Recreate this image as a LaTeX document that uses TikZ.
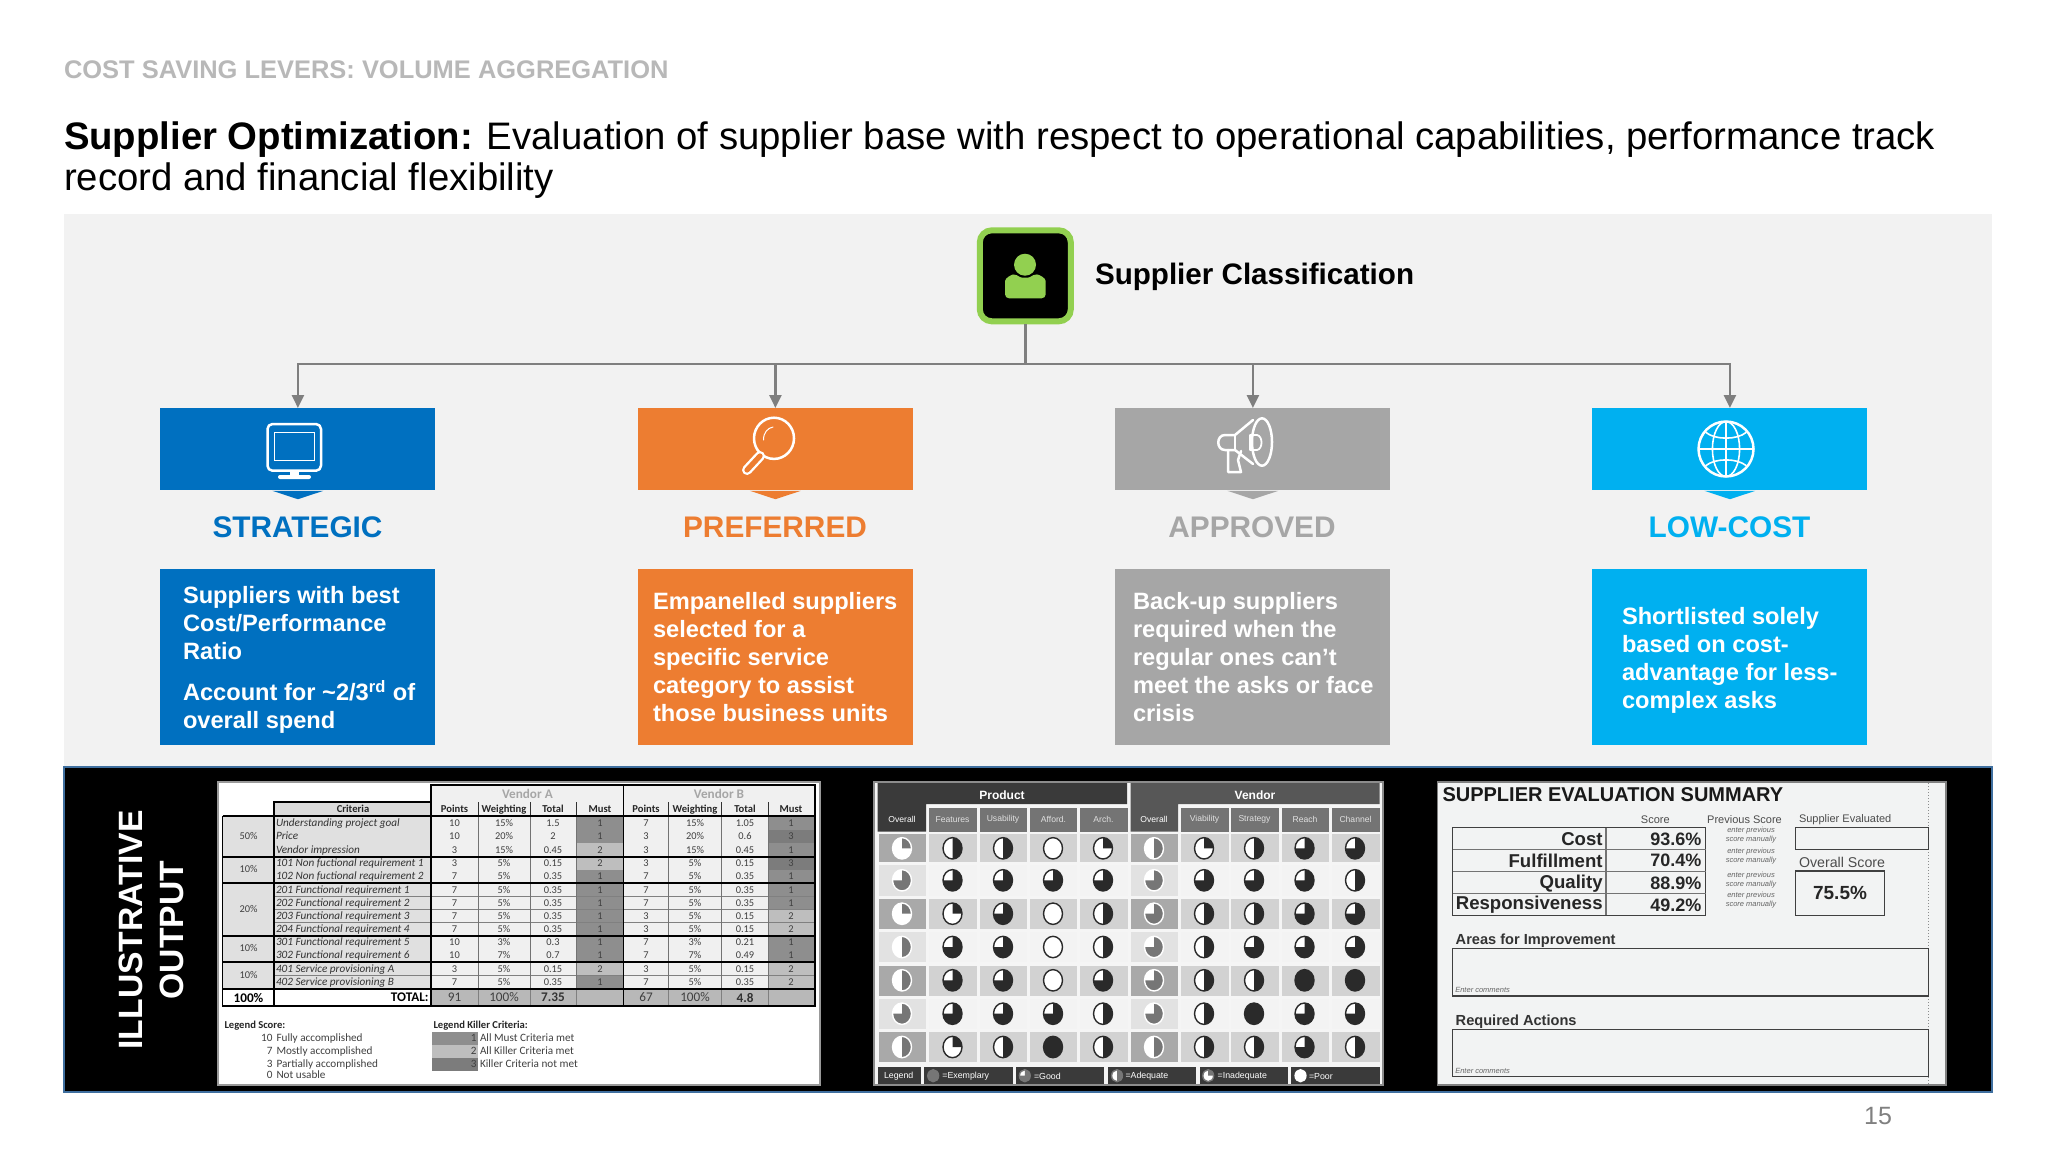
\documentclass[tikz,border=0pt]{standalone}
\usepackage{fontspec}
\usetikzlibrary{arrows.meta}
\setmainfont{Liberation Sans}
\newfontfamily\tbl{Carlito}
\definecolor{cblue}{HTML}{0070C0}
\definecolor{corange}{HTML}{ED7D31}
\definecolor{cgrey}{HTML}{A6A6A6}
\definecolor{ccyan}{HTML}{00B0F0}
\definecolor{cgreen}{HTML}{92D050}
\definecolor{cpanel}{HTML}{F2F2F2}
\definecolor{cline}{HTML}{7F7F7F}
\definecolor{cedge}{HTML}{3F6F9F}
\definecolor{mc1}{HTML}{8E8E8E}
\definecolor{mc2}{HTML}{BEBEBE}
\definecolor{mc3}{HTML}{7C7C7C}
\definecolor{mc0}{HTML}{B8B8B8}
\definecolor{dkhead}{HTML}{3A3A3A}
\definecolor{subhead}{HTML}{747474}
\definecolor{ballk}{HTML}{2A2A2A}
\definecolor{ballg}{HTML}{767676}
\definecolor{rowa}{HTML}{D2D2D2}
\definecolor{rowb}{HTML}{F3F3F3}
\definecolor{ova}{HTML}{A9A9A9}
\definecolor{ovb}{HTML}{E2E2E2}
\definecolor{sheet}{HTML}{F2F3F3}
\newcounter{nn}
\newcommand\tx[3][]{\stepcounter{nn}\node[txt,#1] (t\arabic{nn}) at (#2) {#3};}
\newcommand\fz[1]{\fontsize{#1}{#1}\selectfont}
% x, y, quarters, colour, outline, rx, ry
\newcommand\hb[7]{%
  \path[fill=white] (#1,#2) ellipse [x radius=#6,y radius=#7];
  \ifnum#3>0 \fill[#4] (#1,#2) -- ++(0pt,#7) arc[start angle=90,delta angle=-90*#3,x radius=#6,y radius=#7] -- cycle;\fi
  \path[draw=#5,line width=.7pt] (#1,#2) ellipse [x radius=#6,y radius=#7];
}
\newcommand\hbrow[2]{%
  \foreach \hbn [count=\hbi] in {#2} {%
    \pgfmathsetmacro\hbx{{902,952.5,1003,1053,1103,1154,1204,1254,1304.5,1355}[\hbi-1]}%
    \ifnum\hbi=1 \hb{\hbx}{#1}{\hbn}{ballg}{white}{4.75pt}{5.35pt}%
    \else\ifnum\hbi=6 \hb{\hbx}{#1}{\hbn}{ballg}{white}{4.75pt}{5.35pt}%
    \else \hb{\hbx}{#1}{\hbn}{ballk}{ballk}{4.75pt}{5.35pt}\fi\fi
  }%
}
\tikzset{
  txt/.style={inner sep=0pt,outer sep=0pt},
  conn/.style={draw=cline,line width=1.2pt},
  arr/.style={conn,-{Triangle[length=6.5pt,width=6pt]}},
  top/.style={rectangle,inner sep=0pt,minimum width=137.5pt,minimum height=41pt,anchor=north west},
  desc/.style={rectangle,inner sep=0pt,minimum width=137.5pt,minimum height=87.75pt,anchor=north west},
  level/.style={txt,font=\bfseries\fz{14.9}},
  body/.style={txt,anchor=west,align=left,text=white,font=\bfseries\fontsize{11.82}{14}\selectfont},
  ico/.style={draw=white,line width=1.25pt,line join=round,line cap=round},
  strut/.style={text height=3.7pt,text depth=1.1pt},
  tb/.style={strut,font=\tbl\fz{5.2},text=black!75},
  tbl5/.style={strut,font=\tbl\fz{5.6},text=black!75},
  tbb/.style={strut,font=\tbl\bfseries\fz{5.3},text=black!85},
  tbi/.style={strut,font=\tbl\itshape\fz{5.6},text=black!80,anchor=west},
  head/.style={font=\fz{4.3},text=white!88!black},
  lg/.style={font=\fz{4.4},text=white,anchor=west},
  sh/.style={font=\bfseries\fz{9.3},anchor=east,text=black!85},
  shv/.style={font=\bfseries\fz{9},anchor=east,text=black!85},
  hint/.style={font=\itshape\fz{3.75},text=black!60},
  sl/.style={font=\fz{5.5},text=black!70},
  frm/.style={draw=black!75,line width=.7pt},
}
\begin{document}
\begin{tikzpicture}[x=.5pt,y=-.5pt]
\useasboundingbox (0,0) rectangle (2048,1152);
\fill[white] (0,0) rectangle (2048,1152);
% header
\node[txt,anchor=base west,font=\bfseries\fz{12.73},text=black!28] (kicker) at (64,78) {COST SAVING LEVERS: VOLUME AGGREGATION};
\node[txt,anchor=north west,align=left,font=\fontsize{19.16}{20.5}\selectfont] (title) at (64,122) {\textbf{Supplier Optimization:} Evaluation of supplier base with respect to operational capabilities, performance track\\record and financial flexibility};
% grey panel
\fill[cpanel] (64,214) rectangle (1992,767);
% icon
\node[rectangle,rounded corners=6pt,fill=black,draw=cgreen,line width=3pt,minimum width=45.5pt,minimum height=45.5pt,inner sep=0pt] (icon) at (1025.3,275.8) {};
\fill[cgreen] (1025,264.7) circle [radius=5.5pt];
\fill[cgreen,rounded corners=2pt] (1005,298.3) -- (1005,285) .. controls (1005,278) and (1012,274.5) .. (1017,274.3) .. controls (1021,278) and (1029,278) .. (1033,274.3) .. controls (1039,274.5) and (1045.7,278) .. (1045.7,285) -- (1045.7,298.3) -- cycle;
\node[txt,anchor=west,font=\bfseries\fz{14.8}] (clsname) at (1095,276.6) {Supplier Classification};
% top boxes
\node[top,fill=cblue] (b1) at (160,408) {};
\node[top,fill=corange] (b2) at (637.5,408) {};
\node[top,fill=cgrey] (b3) at (1115,408) {};
\node[top,fill=ccyan] (b4) at (1592,408) {};
\foreach \bn/\bc in {b1/cblue,b2/corange,b3/cgrey,b4/ccyan}{
  \fill[\bc] ([xshift=-12.75pt]\bn.south) -- ([xshift=12.75pt]\bn.south) -- ([yshift=-4.2pt]\bn.south) -- cycle;
}
% connectors
\coordinate (bus) at (icon.south |- 0,364);
\draw[conn] (icon.south) -- (bus);
\draw[arr] (bus) -| (b1.north);
\draw[arr] (bus) -| (b2.north);
\draw[arr] (bus) -| (b3.north);
\draw[arr] (bus) -| (b4.north);
% level names
\node[level,text=cblue] (l1) at (297.5,527.6) {STRATEGIC};
\node[level,text=corange] (l2) at (775,527.6) {PREFERRED};
\node[level,text=cgrey] (l3) at (1252,527.6) {APPROVED};
\node[level,text=ccyan] (l4) at (1729.5,527.6) {LOW-COST};
% descriptions
\node[desc,fill=cblue] (d1) at (160,569) {};
\node[desc,fill=corange] (d2) at (637.5,569) {};
\node[desc,fill=cgrey] (d3) at (1115,569) {};
\node[desc,fill=ccyan] (d4) at (1592,569) {};
\node[body] (dt1) at (183,660) {Suppliers with best\\Cost/Performance\\Ratio\\[6.8pt]Account for \char"007E 2/3\textsuperscript{rd} of\\overall spend};
\node[body] (dt2) at (653,657) {Empanelled suppliers\\selected for a\\specific service\\category to assist\\those business units};
\node[body] (dt3) at (1133,657) {Back-up suppliers\\required when the\\regular ones can’t\\meet the asks or face\\crisis};
\node[body] (dt4) at (1622,660) {Shortlisted solely\\based on cost-\\advantage for less-\\complex asks};
% icons: monitor
\draw[ico,rounded corners=2.5pt] (267.5,424) rectangle (321,470.7);
\draw[white,line width=.5pt] (274.7,432) rectangle (314.5,460);
\fill[white] (290,470.7) rectangle (299,476);
\fill[white,rounded corners=1pt] (278,475) rectangle (311,479);
% magnifier
\draw[ico] (774,438.3) ellipse [x radius=10pt,y radius=10.3pt];
\draw[white,line width=.5pt,line cap=round] (763.5,440) .. controls (763.5,432) and (768,428) .. (773,427);
\draw[white,line width=5pt,line cap=round] (760,456) -- (747,470);
\draw[corange,line width=2.6pt,line cap=round] (760,456) -- (747,470);
% megaphone
\draw[ico] (1262,442) ellipse [x radius=5pt,y radius=11.85pt];
\draw[ico] (1253,420) -- (1235,435) -- (1225,435) .. controls (1216,435) and (1216,450) .. (1225,450) -- (1235,450) -- (1253,464);
\draw[ico,line width=.8pt] (1235,435) -- (1235,450);
\draw[ico,line width=.9pt] (1250,435) -- (1257,435) .. controls (1263,436) and (1263,449) .. (1257,450) -- (1250,450) -- cycle;
\draw[ico] (1228,450) -- (1228,472) -- (1241,472) -- (1238,460) -- (1241,451);
% globe
\draw[ico] (1726,449) circle [radius=13.75pt];
\draw[ico,line width=.8pt] (1726,449) ellipse [x radius=6.8pt,y radius=13.75pt];
\draw[ico,line width=.8pt] (1726,421.7) -- (1726,476.3);
\draw[ico,line width=.8pt] (1698.5,449) -- (1753.5,449);
\draw[ico,line width=.8pt] (1706,432.5) .. controls (1715,440) and (1737,440) .. (1746,432.5);
\draw[ico,line width=.8pt] (1706,465.5) .. controls (1715,458) and (1737,458) .. (1746,465.5);
% black panel
\path[fill=black,draw=cedge,line width=.8pt] (64,767) rectangle (1992,1091.7);
\node[txt,rotate=90,align=center,text=white,font=\bfseries\fontsize{16.85}{20.5}\selectfont] (illus) at (151,930) {ILLUSTRATIVE\\OUTPUT};
% ================ table 1
\path[fill=white,draw=black!40,line width=.9pt] (218,782) rectangle (820,1085);
\fill[black!6] (431.3,785) rectangle (814.8,816);
\fill[black!14] (274,802.3) rectangle (431.3,816);
\foreach \yt/\yb/\lab/\pa/\wa/\ta/\ma/\pb/\wb/\tb/\mb in {
 816/830/Understanding project goal/10/15\%/1.5/1/7/15\%/1.05/1,
 830/843/Price/10/20\%/2/1/3/20\%/0.6/3,
 843/856.7/Vendor impression/3/15\%/0.45/2/3/15\%/0.45/1,
 856.7/870/101 Non fuctional requirement 1/3/5\%/0.15/2/3/5\%/0.15/3,
 870/883.3/102 Non fuctional requirement 2/7/5\%/0.35/1/7/5\%/0.35/1,
 883.3/896.7/201 Functional requirement 1/7/5\%/0.35/1/7/5\%/0.35/1,
 896.7/909.7/202 Functional requirement 2/7/5\%/0.35/1/7/5\%/0.35/1,
 909.7/922.7/203 Functional requirement 3/7/5\%/0.35/1/3/5\%/0.15/2,
 922.7/935.7/204 Functional requirement 4/7/5\%/0.35/1/3/5\%/0.15/2,
 935.7/949/301 Functional requirement 5/10/3\%/0.3/1/7/3\%/0.21/1,
 949/962.3/302 Functional requirement 6/10/7\%/0.7/1/7/7\%/0.49/1,
 962.3/975.7/401 Service provisioning A/3/5\%/0.15/2/3/5\%/0.15/2,
 975.7/989/402 Service provisioning B/7/5\%/0.35/1/7/5\%/0.35/2}{
  \pgfmathsetmacro\ym{(\yt+\yb)/2+.6}
  \fill[black!12] (222.6,\yt) rectangle (431.3,\yb);
  \fill[black!6] (431.3,\yt) rectangle (814.8,\yb);
  \fill[mc\ma] (576.8,\yt) rectangle (623.4,\yb);
  \fill[mc\mb] (768,\yt) rectangle (814.8,\yb);
  \draw[black!50,line width=.4pt] (274,\yb) -- (814.8,\yb);
  \tx[tbi]{276,\ym}{\lab}
  \tx[tb]{454.5,\ym}{\pa}
  \tx[tb]{504,\ym}{\wa}
  \tx[tb]{553,\ym}{\ta}
  \tx[tb]{600,\ym}{\ma}
  \tx[tb]{646,\ym}{\pb}
  \tx[tb]{695,\ym}{\wb}
  \tx[tb]{745,\ym}{\tb}
  \tx[tb]{791,\ym}{\mb}
}
\foreach \xv in {478,530,576.8,668.5,721.5,768}{\draw[black!55,line width=.4pt] (\xv,816) -- (\xv,989);}
\foreach \xv in {478,530,576.8,668.5,721.5,768}{\draw[black!80,line width=.5pt] (\xv,802.3) -- (\xv,816);}
\foreach \xl/\xr/\fc in {431.3/478/mc0,478/530/mc0,530/576.8/mc0,576.8/623.4/mc0,623.4/668.5/mc0,668.5/721.5/mc0,721.5/768/mc0,768/814.8/mc0}{\fill[\fc] (\xl,989) rectangle (\xr,1005.7);}
\foreach \xv in {478,530,576.8,668.5,721.5,768}{\draw[black!50,line width=.4pt] (\xv,989) -- (\xv,1005.7);}
% thick rules
\foreach \yv in {856.7,883.3,935.7,962.3,989}{\draw[black,line width=.85pt] (222.6,\yv) -- (814.8,\yv);}
\draw[black,line width=.85pt] (222.6,816) -- (814.8,816);
\draw[black,line width=.85pt] (222.6,816) -- (222.6,1005.7) -- (814.8,1005.7) -- (814.8,785) -- (431.3,785) -- (431.3,1005.7);
\draw[black,line width=.85pt] (623.4,785) -- (623.4,1005.7);
\draw[black,line width=.85pt] (274,816) -- (274,802.3) -- (431.3,802.3);
\draw[black,line width=.6pt] (274,816) -- (274,1005.7);
\tx[font=\tbl\bfseries\fz{6.6},text=black!35]{527.4,794}{Vendor A}
\tx[font=\tbl\bfseries\fz{6.6},text=black!35]{719,794}{Vendor B}
\foreach \xc/\hd in {353/Criteria,454.5/Points,504/Weighting,553/Total,600/Must,646/Points,695/Weighting,745/Total,791/Must}{\tx[tbb]{\xc,810}{\hd}}
\foreach \xc/\yc/\hd in {248.5/836.5/50\%,248.5/870.3/10\%,248.5/909.7/20\%,248.5/949/10\%,248.5/975.7/10\%}{\tx[tb]{\xc,\yc}{\hd}}
\tx[font=\tbl\bfseries\fz{6.6}]{248.5,997.5}{100\%}
\tx[font=\tbl\bfseries\fz{6.6},anchor=east]{428.5,997.5}{TOTAL:}
\foreach \xc/\hd in {454.5/91,504/100\%,646/67,695/100\%}{\tx[font=\tbl\fz{6.6},text=black!75]{\xc,997.5}{\hd}}
\foreach \xc/\hd in {553/7.35,745/4.8}{\tx[font=\tbl\bfseries\fz{6.6},text=black!80]{\xc,997.5}{\hd}}
% legends
\tx[tbb,anchor=west]{224.5,1026}{Legend Score:}
\tx[tbb,anchor=west]{433.5,1026}{Legend Killer Criteria:}
\foreach \yc/\nm/\dsc in {1038.7/10/Fully accomplished,1051.7/7/Mostly accomplished,1064.7/3/Partially accomplished,1075.7/0/Not usable}{
  \tx[tbl5,anchor=east]{272.5,\yc}{\nm}
  \tx[tbl5,anchor=west]{276.5,\yc}{\dsc}
}
\foreach \yt/\yb/\nm/\dsc in {1032.3/1045/1/All Must Criteria met,1045/1058/2/All Killer Criteria met,1058/1071/3/Killer Criteria not met}{
  \fill[mc\nm] (431.5,\yt) rectangle (478,\yb);
  \pgfmathsetmacro\ym{(\yt+\yb)/2}
  \tx[tbl5,anchor=east]{476.5,\ym}{\nm}
  \tx[tbl5,anchor=west]{480,\ym}{\dsc}
}
% ================ table 2
\path[fill=white!96!black,draw=black!45,line width=.7pt] (874,782) rectangle (1383,1085);
\fill[dkhead] (877.5,783) -- (1127,783) -- (1127,804) -- (926,804) -- (926,831.7) -- (877.5,831.7) -- cycle;
\fill[dkhead!85!white] (1130.5,783) -- (1379.5,783) -- (1379.5,804) -- (1178,804) -- (1178,831.7) -- (1130.5,831.7) -- cycle;
\foreach \xl/\xr/\hd/\xc in {928.5/976.5/Features/952.5,979.5/1027/Usability/1003,1030/1077/Afford./1053.5,1080/1128/Arch./1103.5,1180.5/1228.5/Viability/1204.5,1231/1278.5/Strategy/1254.5,1281.5/1329/Reach/1305,1331.5/1379.5/Channel/1355.5}{
  \fill[subhead] (\xl,807.7) rectangle (\xr,831.7);
  \tx[head]{\xc,819.5}{\hd}
}
\tx[head,text=white]{902,819.5}{Overall}
\tx[head,text=white]{1154,819.5}{Overall}
\tx[font=\bfseries\fz{6},text=white]{1002,795}{Product}
\tx[font=\bfseries\fz{6},text=white]{1255,795}{Vendor}
\foreach \yt/\yb/\fa/\fo in {834/862.3/rowa/ova,865/896/rowb/ovb,899/929/rowa/ova,932.3/962.3/rowb/ovb,965.7/995.7/rowa/ova,999/1029/rowb/ovb,1032.3/1062.3/rowa/ova}{
  \foreach \xl/\xr in {928.5/976.5,979.5/1027,1030/1077,1080/1128,1180.5/1228.5,1231/1278.5,1281.5/1329,1331.5/1379.5}{\fill[\fa] (\xl,\yt) rectangle (\xr,\yb);}
  \fill[\fo] (878.5,\yt) rectangle (926,\yb);
  \fill[\fo] (1130.5,\yt) rectangle (1178,\yb);
}
\hbrow{848.3}{1,2,2,0,1,2,1,2,3,3}
\hbrow{880.3}{3,3,3,3,3,3,3,3,3,2}
\hbrow{913.7}{1,1,3,0,2,3,2,2,3,3}
\hbrow{947}{2,3,3,0,2,3,2,3,3,3}
\hbrow{980.3}{2,3,3,0,3,3,2,2,4,4}
\hbrow{1013.7}{3,3,3,3,2,3,2,4,3,3}
\hbrow{1047}{2,1,2,4,2,2,2,2,3,2}
\foreach \xl/\xr in {877.5/921,924/1012.6,1016.4/1104,1108/1196,1200/1287.6,1291.3/1379.5}{\fill[dkhead] (\xl,1066.7) rectangle (\xr,1084.3);}
\tx[lg,text=white]{884,1076.7}{Legend}
\foreach \xb/\nq/\xt/\hd/\lc in {933.2/4/942.4/=Exemplary/ballg,1024.8/3/1034/=Good/ballg,1117/2/1125.5/=Adequate/ballg,1208.2/1/1217.7/=Inadequate/ballg,1300.5/0/1309/=Poor/white}{
  \hb{\xb}{1075.7}{\nq}{\lc}{\lc}{2.7pt}{3pt}
  \tx[lg]{\xt,1076.7}{\hd}
}
% ================ table 3
\path[fill=sheet,draw=black!50,line width=.9pt] (1437.4,782) rectangle (1946,1085);
\draw[black!45,line width=.5pt,densely dotted] (1928.6,783) -- (1928.6,1084);
\tx[anchor=west,font=\bfseries\fz{10},text=black!90]{1442.5,794.3}{SUPPLIER EVALUATION SUMMARY}
\tx[sl]{1655.3,819.3}{Score}
\tx[sl]{1744.5,819.3}{Previous Score}
\tx[sl,anchor=west]{1799,819.3}{Supplier Evaluated}
\draw[frm] (1452.6,827.7) rectangle (1705.7,915.3);
\draw[black!55,line width=.7pt] (1452.6,849.7) -- (1705.7,849.7) (1452.6,871.7) -- (1705.7,871.7) (1452.6,893.7) -- (1705.7,893.7) (1606,827.7) -- (1606,915.3);
\foreach \yc/\lab/\val in {839/Cost/93.6\%,860.5/Fulfillment/70.4\%,883.5/Quality/88.9\%,905/Responsiveness/49.2\%}{
  \tx[sh]{1602.6,\yc}{\lab}
  \tx[shv]{1701.3,\yc}{\val}
}
\foreach \ya/\yb in {830.3/839.3,852/861,875.7/884.7,896/905}{
  \tx[hint]{1751,\ya}{enter previous}
  \tx[hint]{1751,\yb}{score manually}
}
\draw[frm] (1795.5,827.7) rectangle (1928.3,849.7);
\tx[anchor=west,font=\fz{7.1},text=black!70]{1799,862}{Overall Score}
\draw[frm] (1795.5,871) rectangle (1884.4,915.3);
\tx[font=\bfseries\fz{9.5},text=black!85]{1840,893}{75.5\%}
\tx[anchor=west,font=\bfseries\fz{7.3},text=black!80]{1455.7,941}{Areas for Improvement}
\draw[frm] (1452.6,948.7) rectangle (1928.3,996);
\tx[hint,anchor=west]{1455.3,990}{Enter comments}
\tx[anchor=west,font=\bfseries\fz{7.3},text=black!80]{1455.7,1022}{Required Actions}
\draw[frm] (1452.6,1029.3) rectangle (1928.3,1076.7);
\tx[hint,anchor=west]{1455.3,1070.7}{Enter comments}
% page number
\node[txt,font=\fz{12.5},text=black!50] (pageno) at (1878,1115.5) {15};
\end{tikzpicture}
\end{document}
